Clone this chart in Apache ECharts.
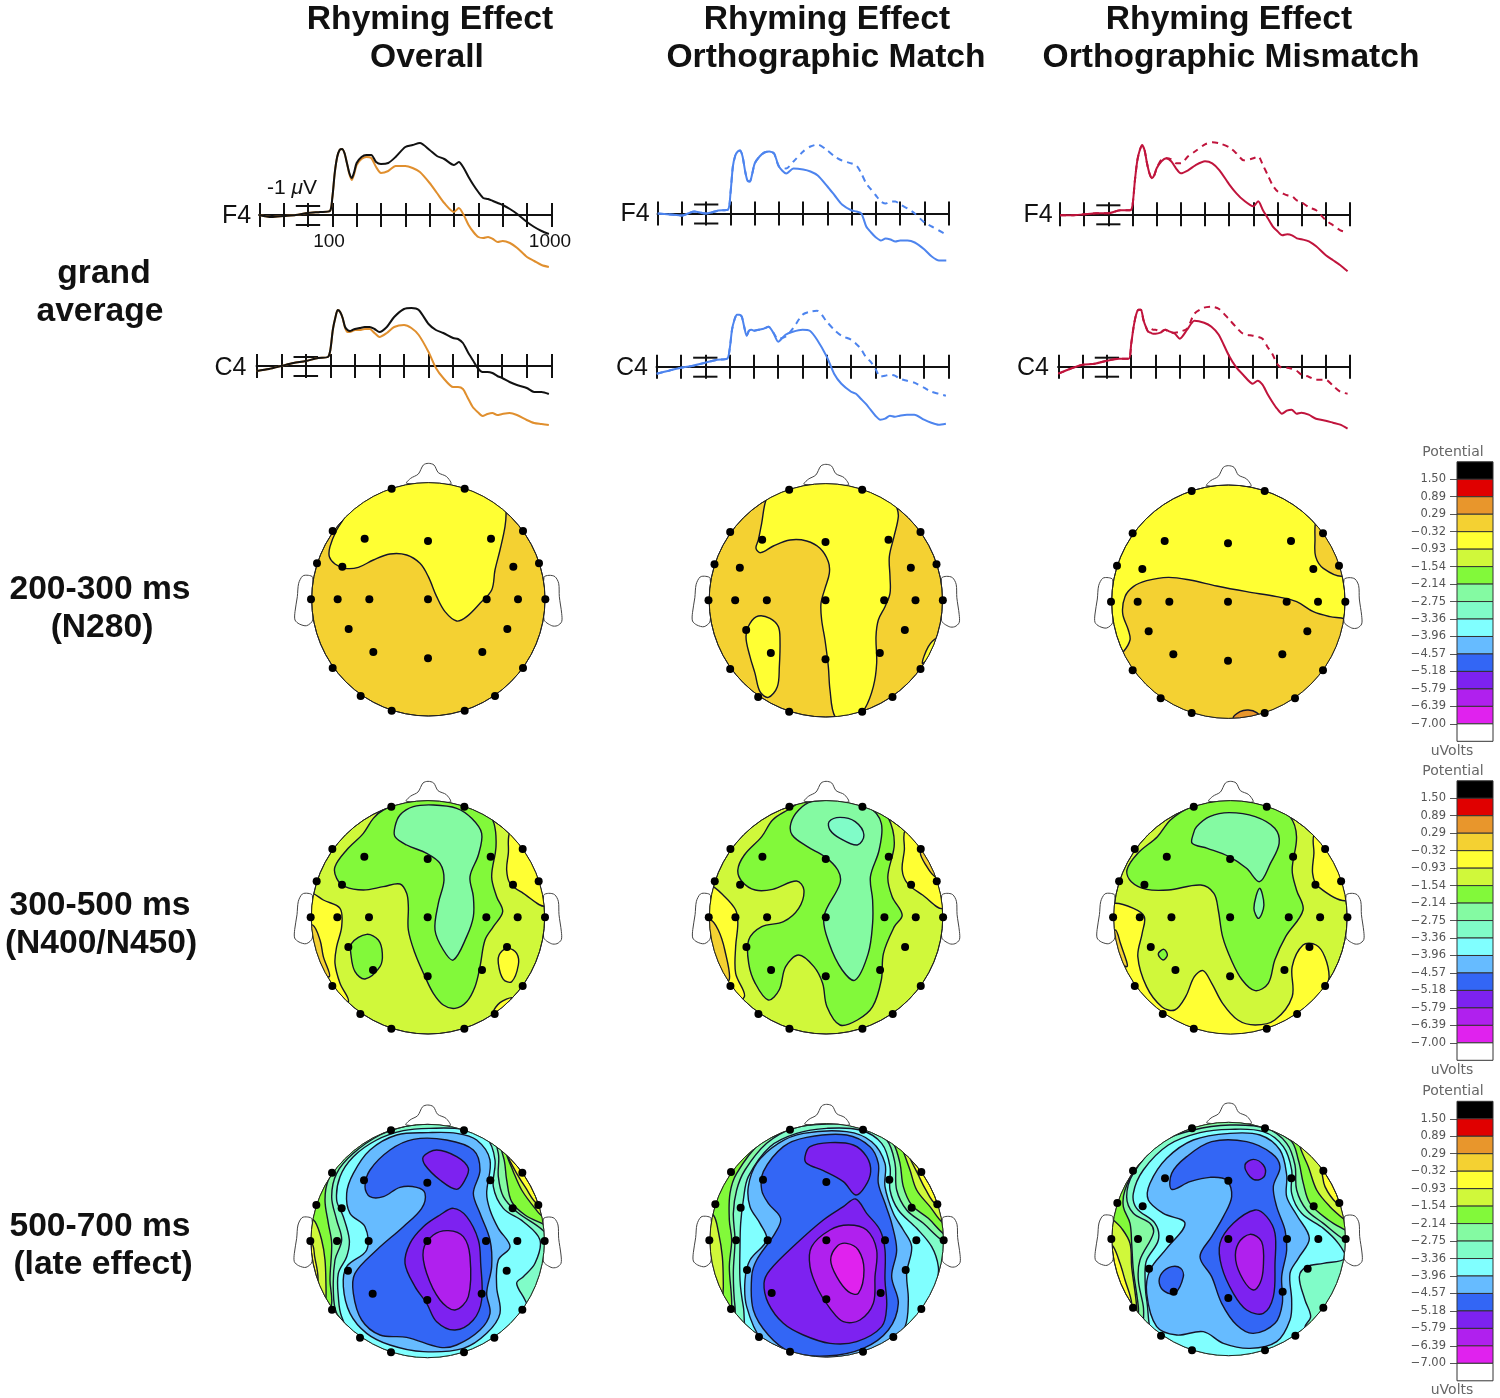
<!DOCTYPE html>
<html>
<head>
<meta charset="utf-8">
<title>Rhyming Effect</title>
<script src="https://cdn.jsdelivr.net/npm/echarts@6/dist/echarts.min.js"></script>
<style>
html, body { margin: 0; padding: 0; background: #fff; }
#chart { width: 1500px; height: 1398px; }
</style>
</head>
<body>
<div id="chart"></div>
<script>
// waveforms, ms and microvolts (negative is up)
var times = [-200,-150,-100,-50,0,50,90,100,110,120,130,140,150,160,170,180,190,200,220,240,260,280,300,330,360,400,430,460,500,530,560,600,620,640,660,680,700,720,740,760,780,800,830,860,900,930,960,990];

var f4Black = [0,.2,.1,0,-.2,-.3,-.4,-1.7,-4.2,-5.8,-6.5,-6.6,-6.2,-5.2,-4.2,-3.7,-4.3,-5.2,-5.8,-6,-6,-5.3,-5.1,-5.2,-5.8,-6.8,-7,-7.2,-6.5,-5.9,-5.6,-5,-5.3,-4.7,-3.8,-3,-2.3,-1.7,-1.6,-1.4,-1.2,-1,-.6,-.1,.7,1.2,1.6,1.9];
var f4Orange = [0,.2,.1,0,-.2,-.3,-.4,-1.7,-4.2,-5.8,-6.5,-6.6,-6.2,-5.2,-4.1,-3.5,-4.1,-5,-5.6,-5.8,-5.7,-4.8,-4.2,-4.4,-4.9,-4.9,-4.7,-4.3,-3.2,-2.2,-1.2,-.3,-.7,0,1,1.7,2.2,2.3,2.2,2.4,2.7,2.6,2.8,3.3,4.2,4.6,5,5.2];
var c4Black = [.5,.3,0,-.3,-.5,-.8,-.9,-1.6,-3.6,-4.8,-5.6,-5.4,-4.8,-3.9,-3.6,-3.5,-3.6,-3.7,-3.8,-3.9,-3.9,-3.7,-3.4,-3.9,-4.9,-5.7,-5.8,-5.6,-4.2,-3.6,-3.3,-2.8,-2.7,-2.3,-1.4,-.6,.2,.6,.6,.7,1,1.2,1.6,1.9,2.2,2.6,2.6,2.8];
var c4Orange = [.5,.3,0,-.3,-.5,-.8,-.9,-1.6,-3.6,-4.8,-5.6,-5.4,-4.8,-3.8,-3.4,-3.4,-3.5,-3.6,-3.6,-3.7,-3.7,-3.3,-2.9,-3.3,-3.9,-4.1,-3.8,-3.1,-1.4,.2,1.2,2.1,2.1,2.3,3.2,4.1,4.6,5,4.8,4.7,4.9,4.8,4.7,4.9,5.4,5.7,5.8,5.9];

var f4Blue = [0,.1,.2,-.2,0,-.3,-.4,-2,-4.7,-5.8,-6.2,-6.3,-5.7,-4.3,-3.3,-3.2,-4,-5,-5.7,-6.1,-6.2,-6,-4.7,-4,-4.5,-4.4,-4.2,-3.8,-2.7,-1.8,-.9,-.3,-.2,0,1.3,1.9,2.4,2.7,2.5,2.6,2.8,2.7,2.7,2.9,3.6,4.3,4.7,4.7];
var f4BlueDash = [0,.1,.2,-.2,0,-.3,-.4,-2,-4.7,-5.8,-6.2,-6.3,-5.7,-4.3,-3.3,-3.2,-4,-5,-5.7,-6.1,-6.2,-6,-4.7,-4.5,-5.2,-6.2,-6.7,-6.9,-6.3,-5.7,-5.3,-5,-4.8,-4,-3,-2.4,-1.8,-1.2,-1,-1.2,-1.2,-.9,-.5,0,.9,1.3,1.7,2.1];
var c4Blue = [.7,.4,.1,-.1,-.4,-.7,-.8,-1.7,-3.7,-4.7,-5.2,-5.2,-5,-4,-3.1,-3.6,-3.7,-3.6,-3.7,-3.8,-4,-3.4,-2.5,-3.2,-3.5,-3.7,-3.6,-2.7,-1,.7,1.7,2.5,2.7,3.2,3.7,4.3,4.9,5.3,5.2,4.9,5,4.9,4.8,4.8,5.3,5.6,5.8,5.7];
var c4BlueDash = [.7,.4,.1,-.1,-.4,-.7,-.8,-1.7,-3.7,-4.7,-5.2,-5.2,-5,-4,-3.1,-3.6,-3.7,-3.6,-3.7,-3.8,-4,-3.4,-2.8,-3,-3.8,-5.2,-5.5,-5.6,-4.5,-3.7,-3.1,-2.7,-2.3,-1.8,-1,-.5,.2,1,.9,.8,.9,1.2,1.4,1.6,2.1,2.5,2.7,2.9];

var f4Red = [.1,.1,0,-.1,-.1,-.4,-.4,-.9,-3.4,-5.4,-6.4,-6.9,-6.4,-5.1,-4.1,-3.6,-3.9,-4.6,-5.3,-5.6,-5.3,-4.6,-4.1,-4.4,-4.9,-5.3,-5.1,-4.4,-3,-2.1,-1.4,-.8,-1.3,-.4,.4,1.2,1.7,2.1,2,2.1,2.4,2.5,2.7,3.2,4.1,4.6,5.1,5.7];
var f4RedDash = [.1,.1,0,-.1,-.1,-.4,-.4,-.9,-3.4,-5.4,-6.4,-6.9,-6.4,-5.1,-4.1,-3.6,-3.9,-4.6,-5.5,-5.6,-5.5,-5.1,-5.1,-5.8,-6.3,-7,-7.2,-7.1,-6.7,-6.1,-5.4,-5.6,-5.8,-4.9,-3.9,-2.9,-2.3,-2.1,-1.9,-1.8,-1.4,-1.2,-.7,-.4,.6,1.1,1.6,1.8];
var c4Red = [.7,.2,-.2,-.3,-.6,-.8,-.8,-2.3,-4,-5.2,-5.7,-5.7,-4.7,-4,-3.5,-3.4,-3.3,-3.3,-3.4,-3.7,-3.5,-3.3,-2.8,-3.7,-4.6,-4.4,-4,-3.2,-1.2,0,.8,1.7,1.4,1.8,2.7,3.5,4.2,4.7,4.4,4.3,4.7,4.6,4.8,5.2,5.4,5.6,5.8,6.2];
var c4RedDash = [.7,.2,-.2,-.3,-.6,-.8,-.8,-2.3,-4,-5.2,-5.7,-5.7,-4.7,-4,-3.5,-3.8,-3.7,-3.7,-3.5,-3.7,-3.4,-3.4,-3.5,-3.8,-5.3,-5.9,-6,-5.8,-4.8,-4,-3.3,-3.1,-3,-2.8,-2,-1.3,-.3,.1,.1,.2,.4,.8,1,1.3,1.3,1.9,2.5,2.7];

// colour scale, top to bottom
var potentialLabels = ['', '1.50', '0.89', '0.29', '\u22120.32', '\u22120.93', '\u22121.54', '\u22122.14', '\u22122.75', '\u22123.36', '\u22123.96', '\u22124.57', '\u22125.18', '\u22125.79', '\u22126.39', '\u22127.00', ''];
var bandColors = ['#000000','#e00000','#e8962c','#f4d132','#ffff33','#d0f83a','#82f93a','#84faa2','#80fcc8','#80ffff','#66bbff','#3366f5','#7d22f0','#b020ee','#e022ee','#ffffff'];
var ORANGE = 2, GOLD = 3, YELLOW = 4, LIME = 5, GREEN = 6, MINT = 7, AQUA = 8, CYAN = 9, SKY = 10, BLUE = 11, PURPLE = 12, VIOLET = 13, MAGENTA = 14;

// electrode layout and head outline, offsets from the head centre
var electrodes = [[-110,-332],[109,-332],[-287,-205],[284,-205],[-191,-182],[-1,-175],[188,-182],[-334,-108],[332,-108],[-258,-98],[255,-98],[-352,0],[-272,0],[-177,0],[-1,0],[175,0],[269,0],[351,0],[-239,89],[237,89],[-165,158],[-1,177],[162,158],[-287,206],[284,206],[-203,290],[200,290],[-110,334],[109,334]];
var nose = [[-65,-348],[-53,-363],[-30,-376],[-15,-403],[0,-408],[17,-403],[30,-380],[55,-368],[67,-346]];
var earLeft = [[-347,-66],[-360,-72],[-377,-70],[-389,-48],[-393,-8],[-400,37],[-400,62],[-387,74],[-365,79],[-347,62]];
var earRight = [[347,-66],[362,-72],[380,-68],[391,-48],[393,-8],[400,42],[400,67],[387,79],[370,79],[347,60]];

// contour regions of each map: [band, x,y, x,y ...], painted in order
var n280Overall = [
  [YELLOW, 165,170, 140,210, 120,260, 118,290, 135,312, 165,325, 205,322, 250,300, 300,282, 350,285, 390,310, 415,350, 440,410, 465,455, 500,483, 530,470, 570,430, 605,390, 615,330, 630,270, 645,200, 648,155, 640,100, 415,30, 200,100]
];
var n280Match = [
  [YELLOW, 228,120, 215,190, 205,240, 198,265, 212,278, 250,258, 300,240, 350,243, 390,265, 415,305, 418,340, 405,385, 393,430, 395,480, 405,540, 415,620, 420,690, 435,770, 480,800, 525,745, 550,680, 560,610, 558,530, 565,480, 585,440, 600,400, 600,350, 598,290, 612,230, 625,170, 620,140, 600,90, 407,40, 250,90],
  [YELLOW, 180,490, 205,468, 240,475, 265,500, 270,540, 268,620, 262,680, 235,712, 210,695, 195,640, 180,590, 168,530],
  [YELLOW, 740,535, 715,560, 697,610, 720,590, 745,550]
];
var n280Mismatch = [
  [GOLD, 100,575, 120,540, 115,510, 98,460, 105,410, 130,380, 170,362, 235,352, 300,360, 380,378, 470,395, 560,410, 620,425, 670,455, 720,470, 765,477, 800,500, 780,800, 50,800, 50,620],
  [GOLD, 678,180, 675,240, 677,290, 700,325, 760,348, 790,300, 760,200, 700,150],
  [ORANGE, 430,775, 450,755, 475,750, 500,758, 510,775, 470,800]
];
var n400Overall = [
  [YELLOW, 660,155, 655,220, 650,270, 660,310, 700,340, 768,378, 800,300, 760,180, 700,130],
  [GOLD, 715,225, 730,255, 745,285, 760,250, 730,210],
  [YELLOW, 68,340, 100,360, 150,385, 155,440, 140,500, 135,550, 150,610, 175,665, 120,660, 30,500, 40,340],
  [GOLD, 68,435, 90,480, 100,530, 118,590, 60,560, 40,450],
  [YELLOW, 655,505, 680,520, 685,555, 665,605, 640,598, 625,550, 630,520],
  [YELLOW, 610,695, 630,668, 665,653, 655,668, 625,695],
  [GREEN, 280,90, 250,115, 220,160, 170,210, 135,260, 140,295, 165,320, 220,330, 280,320, 330,312, 350,340, 355,380, 355,450, 375,520, 405,590, 430,640, 460,675, 495,685, 530,665, 555,620, 570,560, 585,480, 610,440, 638,395, 620,350, 605,290, 618,200, 612,130, 590,100, 540,75, 420,30],
  [MINT, 330,105, 370,80, 430,75, 500,85, 545,115, 575,160, 565,225, 540,290, 550,350, 550,410, 530,470, 490,540, 460,510, 435,450, 445,370, 462,300, 450,250, 410,220, 350,195, 315,170, 315,140],
  [GREEN, 185,490, 230,463, 265,480, 277,520, 270,560, 225,597, 195,575, 183,525]
];
var n400Match = [
  [YELLOW, 45,315, 80,350, 105,390, 110,430, 105,500, 105,580, 125,650, 80,660, 10,500, 20,330],
  [GOLD, 47,420, 65,450, 80,510, 90,600, 60,580, 30,440],
  [YELLOW, 495,150, 493,210, 488,270, 500,310, 535,345, 582,385, 610,300, 570,190, 530,130],
  [GOLD, 530,215, 540,250, 565,290, 580,250, 550,200],
  [GREEN, 225,90, 190,120, 165,170, 125,225, 110,270, 120,305, 150,330, 190,328, 245,303, 262,330, 250,385, 215,425, 165,440, 135,480, 135,550, 150,610, 180,660, 205,630, 220,560, 250,525, 285,560, 305,610, 315,680, 345,735, 385,720, 420,680, 440,600, 445,520, 470,440, 488,405, 465,350, 455,290, 470,190, 455,110, 430,85, 310,30],
  [MINT, 250,90, 280,65, 350,62, 410,80, 440,130, 435,210, 415,290, 420,360, 420,430, 410,520, 380,600, 350,570, 320,490, 308,410, 345,310, 340,270, 310,230, 270,200, 235,165, 232,130],
  [AQUA, 320,125, 345,112, 380,125, 400,165, 385,195, 345,175, 322,150]
];
var n400Mismatch = [
  [YELLOW, 975,370, 1020,385, 1045,410, 1040,460, 1030,530, 1050,620, 1085,680, 1115,690, 1140,650, 1160,590, 1180,572, 1200,610, 1225,670, 1260,720, 1300,735, 1345,720, 1385,650, 1385,560, 1410,495, 1440,495, 1460,530, 1470,590, 1462,640, 1500,700, 1243,800, 980,700, 920,400],
  [YELLOW, 1435,165, 1435,220, 1432,280, 1445,320, 1510,362, 1540,300, 1500,180, 1460,130],
  [GOLD, 978,450, 990,490, 1005,560, 960,500],
  [GREEN, 1145,85, 1105,120, 1075,170, 1030,220, 1005,270, 1015,305, 1050,328, 1100,330, 1175,315, 1205,340, 1215,390, 1225,470, 1245,540, 1270,600, 1300,632, 1330,610, 1345,540, 1370,470, 1410,390, 1395,330, 1385,270, 1395,170, 1380,110, 1340,80, 1243,30],
  [MINT, 1165,140, 1195,110, 1240,98, 1300,110, 1345,145, 1355,190, 1335,250, 1310,305, 1280,265, 1240,230, 1190,205, 1155,190, 1158,160],
  [MINT, 1310,325, 1320,375, 1308,415, 1297,385],
  [GREEN, 1090,508, 1098,525, 1088,540, 1077,522]
];
var lateOverall = [
  [LIME, 650,165, 680,220, 705,260, 745,315, 820,340, 820,800, 60,800, 84,540, 74,470, 66,430, 30,400, 30,100, 620,30, 630,130],
  [GREEN, 645,150, 670,215, 695,270, 735,325, 760,350, 820,360, 820,800, 100,800, 108,590, 108,560, 105,480, 95,420, 75,365, 40,330, 60,200, 200,50, 620,50],
  [MINT, 600,85, 640,170, 650,240, 665,305, 705,345, 760,372, 820,400, 820,700, 415,830, 100,750, 125,610, 120,540, 125,430, 115,370, 105,300, 115,240, 160,170, 240,115, 300,85, 415,30],
  [AQUA, 420,72, 530,75, 600,100, 625,160, 625,230, 640,290, 680,335, 760,392, 800,450, 800,620, 720,800, 415,800, 200,760, 190,700, 140,640, 130,570, 135,480, 155,420, 140,360, 125,290, 140,220, 190,160, 270,105, 350,78],
  [CYAN, 420,85, 520,88, 590,115, 615,180, 610,260, 640,325, 700,365, 750,420, 735,490, 700,530, 680,550, 705,600, 720,640, 700,700, 415,790, 200,725, 155,650, 145,590, 145,520, 170,470, 178,420, 160,350, 140,300, 150,230, 190,170, 260,120, 340,92],
  [SKY, 415,98, 500,100, 560,120, 600,180, 590,280, 600,330, 625,385, 660,440, 625,480, 620,560, 630,640, 590,700, 520,745, 400,755, 300,735, 230,700, 180,640, 160,560, 170,500, 230,450, 225,380, 180,340, 170,280, 190,220, 240,150, 320,105],
  [BLUE, 370,118, 470,120, 550,150, 570,210, 550,280, 570,340, 600,420, 605,500, 590,580, 600,640, 570,690, 500,735, 450,742, 350,712, 270,705, 215,660, 190,580, 195,520, 260,450, 340,380, 395,325, 405,280, 380,262, 330,262, 280,290, 240,290, 225,260, 240,210, 300,150],
  [PURPLE, 400,170, 440,150, 500,170, 535,205, 525,240, 500,268, 450,240, 405,195],
  [PURPLE, 490,325, 530,350, 565,420, 572,490, 575,600, 550,660, 495,690, 440,665, 410,610, 375,560, 345,490, 360,430, 400,380, 450,345],
  [VIOLET, 475,392, 520,410, 540,470, 535,590, 495,630, 450,600, 410,520, 400,450, 430,405]
];
var lateMatch = [
  [LIME, 655,165, 685,225, 705,265, 740,315, 820,340, 820,800, 0,800, 0,50, 620,30, 640,130],
  [GREEN, 635,140, 660,210, 680,270, 720,320, 760,370, 820,400, 820,800, 100,800, 100,560, 97,470, 85,395, 70,345, 30,320, 60,200, 200,40, 600,40],
  [MINT, 610,130, 630,190, 640,260, 665,315, 715,355, 765,405, 820,430, 820,800, 415,830, 110,730, 125,620, 118,500, 125,420, 118,360, 120,280, 140,220, 210,130, 300,90, 415,30, 560,70],
  [AQUA, 410,72, 520,80, 590,120, 615,190, 620,270, 650,330, 700,370, 755,420, 800,440, 810,800, 410,810, 150,700, 135,620, 130,520, 135,420, 130,340, 140,270, 165,210, 230,130, 310,85],
  [CYAN, 410,85, 510,90, 575,130, 600,200, 600,270, 625,330, 680,385, 725,440, 745,500, 740,550, 720,600, 760,640, 720,780, 410,810, 180,710, 160,620, 150,540, 150,440, 152,370, 160,300, 175,230, 240,140, 320,100],
  [SKY, 340,100, 470,95, 545,125, 585,190, 585,260, 610,340, 640,390, 665,440, 650,520, 655,600, 645,680, 600,730, 500,780, 300,780, 215,720, 170,620, 165,540, 180,480, 230,420, 210,370, 180,320, 175,260, 200,190, 265,130],
  [BLUE, 350,112, 470,105, 540,140, 565,190, 565,250, 585,310, 605,370, 620,450, 605,530, 625,610, 595,690, 520,745, 410,768, 300,755, 235,705, 190,630, 185,530, 200,480, 255,400, 272,355, 235,310, 215,270, 220,215, 280,140],
  [PURPLE, 360,140, 420,128, 490,135, 530,170, 542,215, 525,260, 497,285, 460,245, 400,212, 350,190, 345,170],
  [PURPLE, 497,297, 530,340, 570,390, 585,450, 585,540, 590,620, 575,680, 500,725, 420,730, 340,705, 280,670, 235,610, 222,550, 240,510, 320,430, 400,360, 460,320],
  [VIOLET, 475,375, 530,390, 560,450, 555,530, 550,610, 510,660, 460,665, 420,625, 385,570, 360,500, 365,440, 420,390],
  [MAGENTA, 470,430, 505,450, 522,510, 505,580, 475,575, 440,530, 422,480, 440,440]
];
var lateMismatch = [
  [LIME, 695,215, 705,260, 740,310, 765,320, 820,340, 820,800, 130,800, 125,610, 105,540, 90,490, 70,440, 35,400, 30,100, 640,30],
  [GREEN, 630,140, 655,200, 680,270, 720,320, 765,360, 820,400, 820,800, 150,800, 140,620, 125,500, 120,430, 95,385, 70,360, 30,330, 60,200, 200,40, 610,40],
  [MINT, 600,120, 625,180, 640,250, 660,310, 715,360, 765,390, 820,420, 820,800, 160,800, 145,620, 130,510, 125,430, 120,370, 100,320, 105,270, 140,200, 220,120, 300,85, 410,30],
  [AQUA, 420,75, 530,85, 590,130, 615,195, 620,270, 650,330, 700,370, 765,420, 820,440, 820,800, 180,800, 160,620, 145,540, 150,480, 190,400, 180,370, 130,340, 110,290, 130,220, 210,130, 310,90],
  [CYAN, 420,88, 520,95, 580,140, 605,210, 605,280, 635,340, 700,385, 745,430, 765,475, 700,490, 650,500, 628,530, 645,600, 662,650, 645,685, 720,800, 415,810, 200,720, 170,600, 165,520, 170,480, 205,420, 195,370, 140,325, 130,280, 160,210, 235,135, 330,98],
  [SKY, 420,100, 510,105, 570,150, 590,225, 590,290, 620,345, 658,415, 625,475, 600,520, 605,600, 600,660, 560,725, 480,745, 400,730, 340,695, 260,705, 200,680, 170,580, 180,510, 230,445, 285,370, 220,340, 175,300, 180,250, 230,175, 310,120],
  [BLUE, 365,125, 290,170, 245,220, 245,268, 300,245, 360,232, 410,240, 425,290, 400,350, 365,410, 330,470, 365,530, 395,610, 440,675, 490,700, 555,670, 577,610, 575,530, 590,450, 585,390, 560,320, 550,260, 570,200, 545,160, 470,125],
  [BLUE, 215,520, 245,500, 272,505, 280,530, 255,580, 225,575, 208,550],
  [PURPLE, 465,195, 490,178, 520,195, 525,225, 505,240, 480,230],
  [PURPLE, 495,330, 530,350, 555,400, 555,490, 550,590, 520,640, 470,630, 430,580, 395,500, 390,430, 430,370],
  [VIOLET, 480,403, 515,425, 520,500, 510,550, 490,570, 460,540, 437,480, 445,430]
];

var FONT = 'Liberation Sans';
var option = { animation: false, backgroundColor: '#fff', grid: [], xAxis: [], yAxis: [], series: [], graphic: [] };

function addText(text, x, y, size, weight, color, family) {
  option.graphic.push({
    type: 'text', x: x, y: y, silent: true,
    style: {
      text: text, fill: color || '#111', textAlign: 'center', textVerticalAlign: 'middle',
      font: (weight || 'normal') + ' ' + size + 'px "' + (family || FONT) + '"'
    }
  });
}

function addErp(left, right, axisY, solid, solidColor, other, otherColor, otherDashed) {
  var g = option.grid.length;
  var ax = option.xAxis.length;
  option.grid.push({ left: left, width: right - left, top: axisY - 80, height: 150 });
  var line = { onZero: true, lineStyle: { color: '#111', width: 2 } };
  var tick = { length: 12, lineStyle: { color: '#111', width: 2 } };
  // two axes on the zero line, one with ticks down and one with ticks up
  option.xAxis.push({
    gridIndex: g, type: 'value', min: -200, max: 1000, interval: 100, position: 'bottom',
    axisLine: line, splitLine: { show: false }, axisTick: tick, axisLabel: { show: false }
  });
  option.xAxis.push({
    gridIndex: g, type: 'value', min: -200, max: 1000, interval: 100, position: 'top',
    axisLine: line, splitLine: { show: false }, axisTick: tick, axisLabel: { show: false }
  });
  option.yAxis.push({ gridIndex: g, type: 'value', min: -8, max: 7, inverse: true, show: false });
  var y = option.yAxis.length - 1;
  option.yAxis.push({ gridIndex: g, type: 'value', min: -8, max: 7, inverse: true, show: false });

  // calibration bar caps at the zero tick
  option.series.push({
    type: 'custom', xAxisIndex: ax, yAxisIndex: y, silent: true, z: 3,
    data: [[-50, 50, -0.9], [-50, 50, 1]],
    renderItem: function (params, api) {
      var a = api.coord([api.value(0), api.value(2)]);
      var b = api.coord([api.value(1), api.value(2)]);
      return { type: 'line', shape: { x1: a[0], y1: a[1], x2: b[0], y2: b[1] }, style: { stroke: '#111', lineWidth: 2 } };
    }
  });
  function trace(values, color, dashed, z) {
    option.series.push({
      type: 'line', xAxisIndex: ax, yAxisIndex: y, showSymbol: false, silent: true, smooth: 0.25, z: z,
      data: times.map(function (t, i) { return [t, values[i]]; }),
      lineStyle: { color: color, width: 2, type: dashed ? [6, 5] : 'solid' }
    });
  }
  trace(other, otherColor, otherDashed, 4);
  trace(solid, solidColor, false, 5);
}

function addMap(regions, baseBand, cx, cy, left, top, width, xMax) {
  var g = option.grid.length;
  var kx = xMax / width / 3; // 1 for a square crop, narrower when the crop was squeezed
  option.grid.push({ left: left, top: top, width: width, height: 270 });
  option.xAxis.push({ gridIndex: g, type: 'value', min: 0, max: xMax, show: false });
  option.yAxis.push({ gridIndex: g, type: 'value', min: 0, max: 810, inverse: true, show: false });
  var xi = option.xAxis.length - 1;
  var yi = option.yAxis.length - 1;

  function headClip(api) {
    var c = api.coord([cx, cy]);
    var t = api.coord([cx, cy - 350]);
    return { cx: c[0], cy: c[1], r: c[1] - t[1] };
  }
  function offsetPoints(api, list) {
    return list.map(function (p) { return api.coord([cx + p[0] * kx, cy + p[1]]); });
  }

  // nose and ears, under the scalp
  var outlines = [nose, earLeft, earRight];
  option.series.push({
    type: 'custom', xAxisIndex: xi, yAxisIndex: yi, silent: true, z: 2,
    data: outlines.map(function (o, i) { return [i]; }),
    renderItem: function (params, api) {
      return {
        type: 'polygon',
        shape: { points: offsetPoints(api, outlines[params.dataIndex]), smooth: 0.3 },
        style: { fill: '#fff', stroke: '#444', lineWidth: 1 }
      };
    }
  });
  // scalp base
  option.series.push({
    type: 'custom', xAxisIndex: xi, yAxisIndex: yi, silent: true, z: 3,
    data: [[0]],
    renderItem: function (params, api) {
      return { type: 'circle', shape: headClip(api), style: { fill: bandColors[baseBand], stroke: '#222', lineWidth: 1 } };
    }
  });
  // contour regions
  option.series.push({
    type: 'custom', xAxisIndex: xi, yAxisIndex: yi, silent: true, z: 4,
    data: regions.map(function (r, i) { return [i]; }),
    renderItem: function (params, api) {
      var r = regions[params.dataIndex];
      var pts = [];
      for (var i = 1; i < r.length; i += 2) {
        pts.push(api.coord([r[i], r[i + 1]]));
      }
      return {
        type: 'polygon',
        shape: { points: pts, smooth: 0.35 },
        clipPath: { type: 'circle', shape: headClip(api) },
        style: { fill: bandColors[r[0]], stroke: '#14142a', lineWidth: 1.4 }
      };
    }
  });
  // head rim over the fills
  option.series.push({
    type: 'custom', xAxisIndex: xi, yAxisIndex: yi, silent: true, z: 5,
    data: [[0]],
    renderItem: function (params, api) {
      return { type: 'circle', shape: headClip(api), style: { fill: 'none', stroke: '#222', lineWidth: 1 } };
    }
  });
  option.series.push({
    type: 'scatter', xAxisIndex: xi, yAxisIndex: yi, silent: true, z: 6, symbolSize: 8,
    itemStyle: { color: '#000', opacity: 1 },
    data: electrodes.map(function (e) { return [cx + e[0] * kx, cy + e[1]]; })
  });
}

function addScale(dy) {
  var g = option.grid.length;
  option.grid.push({ left: 1457, width: 36, top: 461.8 + dy, height: 279.5 });
  option.xAxis.push({ gridIndex: g, type: 'value', min: 0, max: 1, show: false });
  option.yAxis.push({
    gridIndex: g, type: 'category', inverse: true, boundaryGap: false, data: potentialLabels,
    axisLine: { show: false }, splitLine: { show: false },
    axisTick: { length: 7, lineStyle: { color: '#555', width: 1 }, interval: function (i) { return i > 0 && i < 16; } },
    axisLabel: { margin: 11, fontFamily: 'DejaVu Sans', fontSize: 11.5, color: '#555', interval: 0 }
  });
  option.series.push({
    type: 'custom', xAxisIndex: option.xAxis.length - 1, yAxisIndex: option.yAxis.length - 1, silent: true,
    data: bandColors.map(function (c, i) { return [i]; }),
    renderItem: function (params, api) {
      var i = params.dataIndex;
      var a = api.coord([0, i]);
      var b = api.coord([1, i + 1]);
      return {
        type: 'rect', shape: { x: a[0], y: a[1], width: b[0] - a[0], height: b[1] - a[1] },
        style: { fill: bandColors[i], stroke: '#333', lineWidth: 1 }
      };
    }
  });
  addText('Potential', 1453, 452 + dy, 14, 'normal', '#666', 'DejaVu Sans');
  addText('uVolts', 1452, 751 + dy, 14, 'normal', '#666', 'DejaVu Sans');
}

// headings
addText('Rhyming Effect', 430, 20, 33.6, 'bold');
addText('Overall', 427, 58, 33.6, 'bold');
addText('Rhyming Effect', 827, 20, 33.6, 'bold');
addText('Orthographic Match', 826, 58, 33.6, 'bold');
addText('Rhyming Effect', 1229, 20, 33.6, 'bold');
addText('Orthographic Mismatch', 1231, 58, 33.6, 'bold');
addText('grand', 104, 274, 33.6, 'bold');
addText('average', 100, 312, 33.6, 'bold');
addText('200-300 ms', 100, 590, 33.6, 'bold');
addText('(N280)', 102, 628, 33.6, 'bold');
addText('300-500 ms', 100, 906, 33.6, 'bold');
addText('(N400/N450)', 101, 944, 33.6, 'bold');
addText('500-700 ms', 100, 1227, 33.6, 'bold');
addText('(late effect)', 103, 1265, 33.6, 'bold');

// waveform panels
addErp(259.3, 551.3, 215, f4Black, '#111', f4Orange, '#e08f2e', false);
addErp(256.7, 551.3, 366, c4Black, '#111', c4Orange, '#e08f2e', false);
addErp(657.7, 948.7, 213.5, f4Blue, '#4d84ee', f4BlueDash, '#4d84ee', true);
addErp(656.7, 948.3, 366.7, c4Blue, '#4d84ee', c4BlueDash, '#4d84ee', true);
addErp(1060, 1350, 214.3, f4Red, '#c0143c', f4RedDash, '#c0143c', true);
addErp(1058.3, 1350, 366.7, c4Red, '#c0143c', c4RedDash, '#c0143c', true);
addText('F4', 236.5, 216, 25);
addText('C4', 230.5, 368, 25);
addText('F4', 635, 214, 25);
addText('C4', 632, 368, 25);
addText('F4', 1038, 215, 25);
addText('C4', 1033, 368, 25);
addText('100', 329, 242, 19);
addText('1000', 550, 242, 19);
option.graphic.push({
  type: 'text', x: 292, y: 188, silent: true,
  style: {
    text: '-1 {i|\u03bc}V', fill: '#111', textAlign: 'center', textVerticalAlign: 'middle',
    font: '21px "' + FONT + '"',
    rich: { i: { fontStyle: 'italic', fontFamily: FONT, fontSize: 21, fill: '#111' } }
  }
});

// scalp maps
addMap(n280Overall, GOLD, 415, 418, 290, 460, 280, 840);
addMap(n280Match, GOLD, 407.5, 421, 690, 460, 280, 840);
addMap(n280Mismatch, YELLOW, 415, 425, 1090, 460, 280, 840);
addMap(n400Overall, LIME, 414, 412, 290, 780, 280, 840);
addMap(n400Match, LIME, 313, 412, 690, 780, 680, 1564);
addMap(n400Mismatch, LIME, 1243, 412, 690, 780, 680, 1564);
addMap(lateOverall, YELLOW, 413, 423, 290, 1100, 280, 840);
addMap(lateMatch, YELLOW, 410, 421, 690, 1100, 280, 840);
addMap(lateMismatch, YELLOW, 416, 417, 1090, 1100, 280, 840);

addScale(0);
addScale(319);
addScale(639.5);

var chart = echarts.init(document.getElementById('chart'), null, { width: 1500, height: 1398 });
chart.setOption(option);
</script>
</body>
</html>
